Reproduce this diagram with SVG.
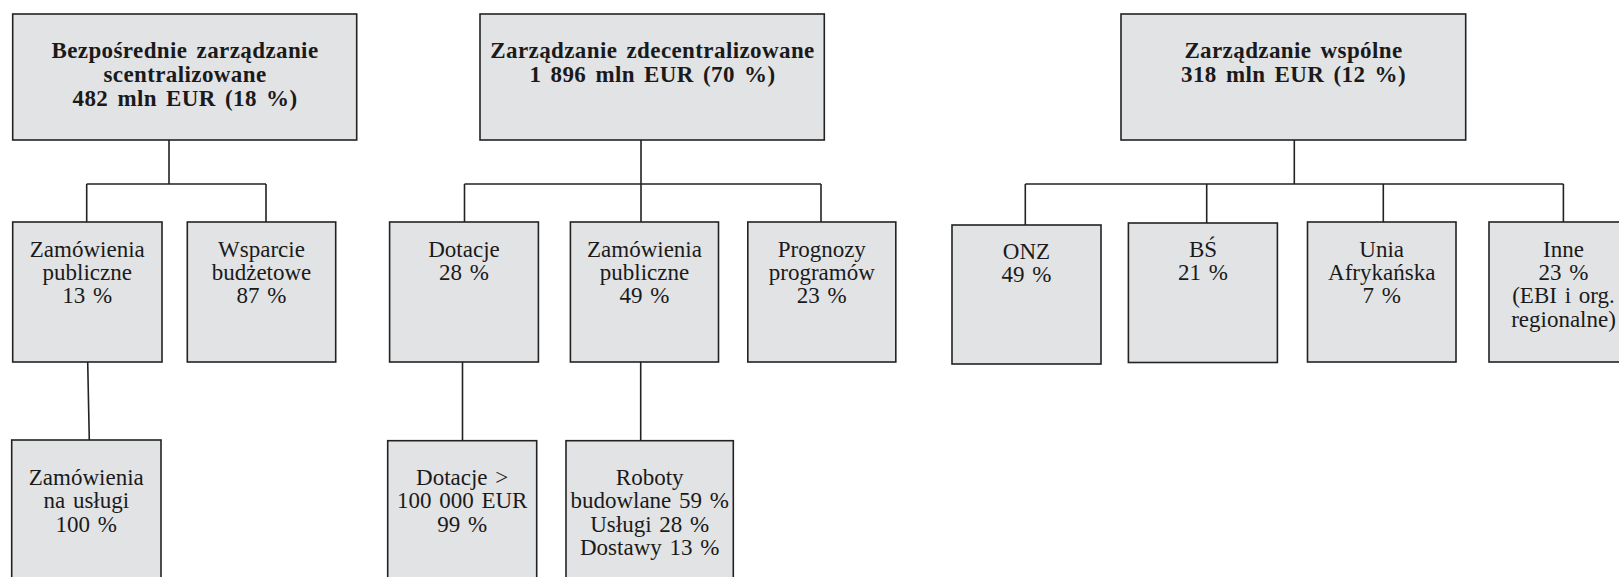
<svg xmlns="http://www.w3.org/2000/svg" width="1619" height="577" viewBox="0 0 1619 577">
<style>
.box{fill:#e2e3e5;stroke:#222;stroke-width:1.6}
.t{font-family:"Liberation Serif","Times New Roman",serif;font-size:23px;fill:#1a1a1a;text-anchor:middle;word-spacing:2px}
.b{font-weight:bold;letter-spacing:0.4px;word-spacing:3px}
.c{fill:none;stroke:#222;stroke-width:1.6}
</style>
<rect width="1619" height="577" fill="#fff"/>
<g id="connectors">
<path class="c" d="M169,140V184M86.7,184H266M86.7,184V222M266,184V222"/>
<path class="c" d="M87.7,362L89.3,440"/>
<path class="c" d="M641,140V184M464.5,184H821M464.5,184V222M641,184V222M821,184V222"/>
<path class="c" d="M462.5,362V440.7M640.7,362V440.7"/>
<path class="c" d="M1294.3,140V184M1025.3,184H1563.4M1025.3,184V225M1206.7,184V223M1383.3,184V222M1563.4,184V222"/>
</g>
<g id="n1"><rect class="box" x="12.7" y="14" width="344" height="126"/>
<text class="t b" x="185" y="58.3">Bezpośrednie zarządzanie</text>
<text class="t b" x="185" y="81.7">scentralizowane</text>
<text class="t b" x="185" y="106">482 mln EUR (18 %)</text></g>
<g id="n2"><rect class="box" x="480" y="14" width="344.3" height="126"/>
<text class="t b" x="652.5" y="58.3">Zarządzanie zdecentralizowane</text>
<text class="t b" x="652.5" y="81.7">1 896 mln EUR (70 %)</text></g>
<g id="n3"><rect class="box" x="1121" y="14" width="344.7" height="126"/>
<text class="t b" x="1293.5" y="58.3">Zarządzanie wspólne</text>
<text class="t b" x="1293.5" y="81.7">318 mln EUR (12 %)</text></g>
<g id="n4"><rect class="box" x="12.7" y="222" width="149.3" height="140"/>
<text class="t" x="87.3" y="256.7">Zamówienia</text>
<text class="t" x="87.3" y="280">publiczne</text>
<text class="t" x="87.3" y="303.3">13 %</text></g>
<g id="n5"><rect class="box" x="187.3" y="222" width="148.4" height="140"/>
<text class="t" x="261.5" y="256.7">Wsparcie</text>
<text class="t" x="261.5" y="280">budżetowe</text>
<text class="t" x="261.5" y="303.3">87 %</text></g>
<g id="n6"><rect class="box" x="389.6" y="222" width="148.8" height="140"/>
<text class="t" x="464" y="256.7">Dotacje</text>
<text class="t" x="464" y="280">28 %</text></g>
<g id="n7"><rect class="box" x="570.4" y="222" width="148.1" height="140"/>
<text class="t" x="644.5" y="256.7">Zamówienia</text>
<text class="t" x="644.5" y="280">publiczne</text>
<text class="t" x="644.5" y="303.3">49 %</text></g>
<g id="n8"><rect class="box" x="747.8" y="222" width="148" height="140"/>
<text class="t" x="821.8" y="256.7">Prognozy</text>
<text class="t" x="821.8" y="280">programów</text>
<text class="t" x="821.8" y="303.3">23 %</text></g>
<g id="n9"><rect class="box" x="952" y="225" width="149" height="139"/>
<text class="t" x="1026.5" y="259.3">ONZ</text>
<text class="t" x="1026.5" y="281.7">49 %</text></g>
<g id="n10"><rect class="box" x="1128.4" y="223" width="149" height="139.5"/>
<text class="t" x="1203" y="257.3">BŚ</text>
<text class="t" x="1203" y="280">21 %</text></g>
<g id="n11"><rect class="box" x="1307.5" y="222" width="148.5" height="140"/>
<text class="t" x="1381.7" y="257.3">Unia</text>
<text class="t" x="1381.7" y="280">Afrykańska</text>
<text class="t" x="1381.7" y="303.3">7 %</text></g>
<g id="n12"><rect class="box" x="1489" y="222" width="149" height="140"/>
<text class="t" x="1563.5" y="257.3">Inne</text>
<text class="t" x="1563.5" y="280">23 %</text>
<text class="t" x="1563.5" y="303.3">(EBI i org.</text>
<text class="t" x="1563.5" y="326.7">regionalne)</text></g>
<g id="n13"><rect class="box" x="11.7" y="440" width="149.3" height="160"/>
<text class="t" x="86.3" y="485">Zamówienia</text>
<text class="t" x="86.3" y="508.3">na usługi</text>
<text class="t" x="86.3" y="531.7">100 %</text></g>
<g id="n14"><rect class="box" x="387.7" y="440.7" width="149" height="160"/>
<text class="t" x="462.2" y="485">Dotacje &gt;</text>
<text class="t" x="462.2" y="508.3">100 000 EUR</text>
<text class="t" x="462.2" y="531.7">99 %</text></g>
<g id="n15"><rect class="box" x="566" y="440.7" width="167.3" height="160"/>
<text class="t" x="649.7" y="485">Roboty</text>
<text class="t" x="649.7" y="508.3">budowlane 59 %</text>
<text class="t" x="649.7" y="531.7">Usługi 28 %</text>
<text class="t" x="649.7" y="555">Dostawy 13 %</text></g>
</svg>
